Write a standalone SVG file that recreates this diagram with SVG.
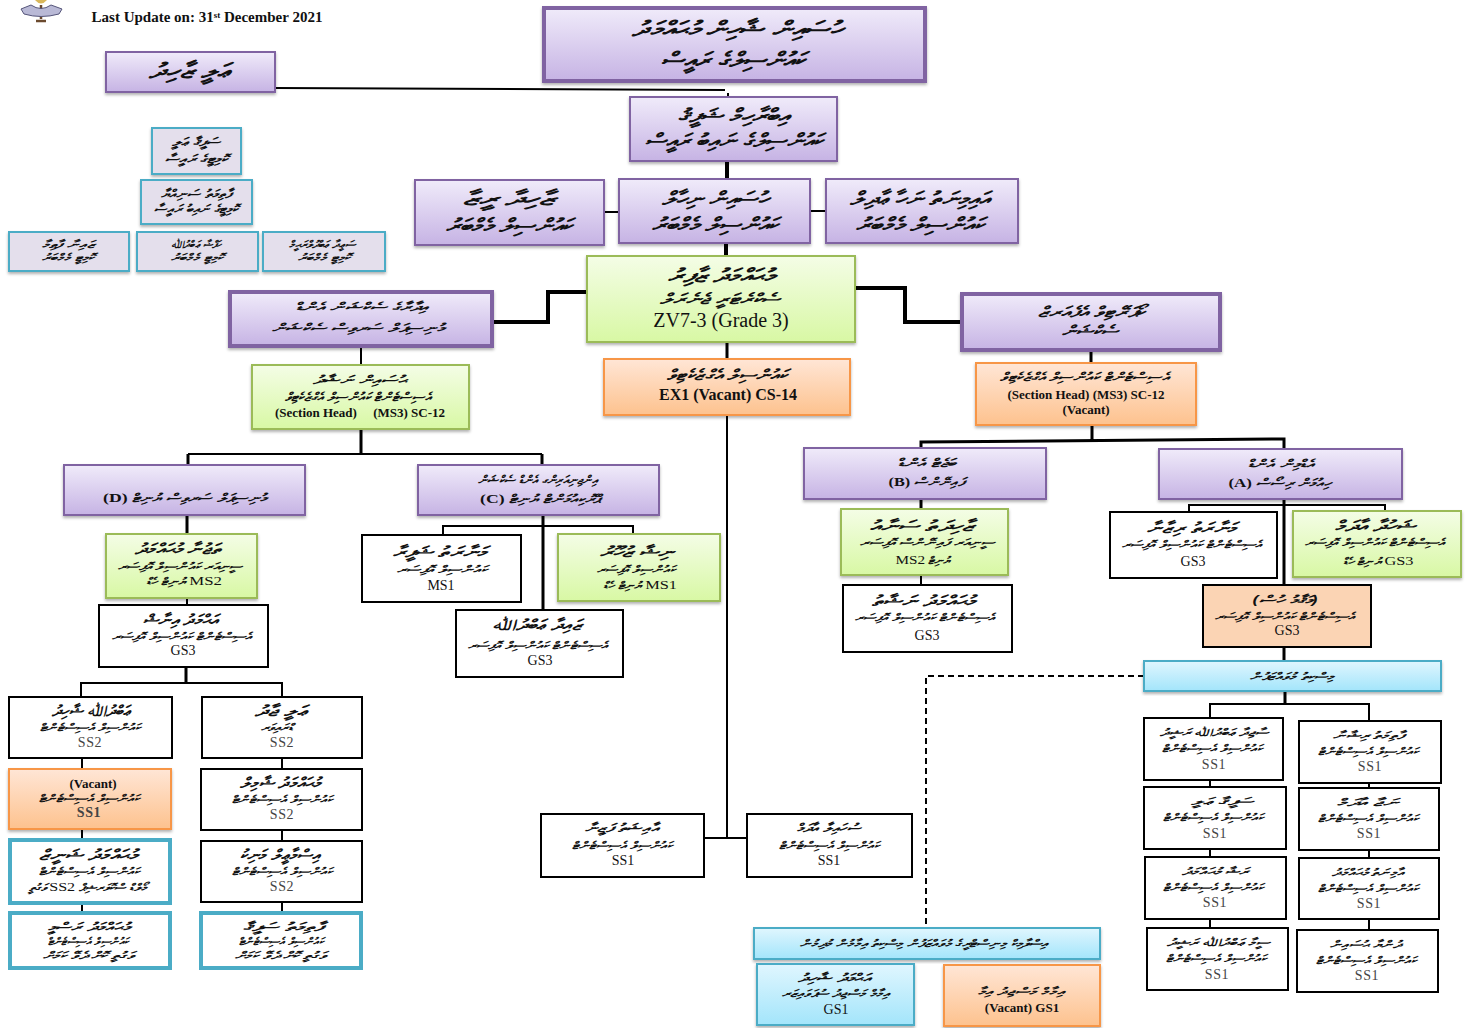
<svg xmlns="http://www.w3.org/2000/svg" width="1474" height="1028" viewBox="0 0 1474 1028">
<style>
text{text-anchor:middle;font-family:"Liberation Serif","Noto Sans",serif;fill:#111}
.d{direction:rtl;font-family:"Noto Sans","DejaVu Sans",sans-serif;font-weight:700;font-style:italic}
.xl{font-size:21px}.l{font-size:19px}.m{font-size:15px}.s{font-size:12px}.xs{font-size:10.5px}
.e{font-family:"Liberation Serif",serif;font-style:normal;font-weight:700;font-size:13px}
.f{font-family:"Liberation Serif",serif;font-style:normal;font-weight:400;font-size:13px}
.r{font-size:14px}.g{fill:#444;letter-spacing:.6px}
.la{font-size:13px;font-weight:700}.lb{font-size:20px}
.p{fill:url(#pu);stroke:#8064a2;stroke-width:2;filter:url(#sh)}.pt{fill:url(#pu);stroke:#8064a2;stroke-width:4;filter:url(#sh)}
.gr{fill:url(#gr);stroke:#9bbb59;stroke-width:2;filter:url(#sh)}.o{fill:url(#or);stroke:#f79646;stroke-width:2;filter:url(#sh)}
.b{fill:url(#bl);stroke:#4bacc6;stroke-width:2;filter:url(#sh)}.li{fill:#e4dfec;stroke:#4bacc6;stroke-width:2;filter:url(#sh)}
.w{fill:#fff;stroke:#000;stroke-width:2}.wb{fill:#fff;stroke:#4bacc6;stroke-width:4}.pe{fill:#fbd4b4;stroke:#000;stroke-width:2}
.c{fill:none;stroke:#000}.c2{stroke-width:2}.c3{stroke-width:3}.c4{stroke-width:4}
</style>
<defs>
<linearGradient id="pu" x1="0" y1="0" x2="0" y2="1"><stop offset="0" stop-color="#f0ebfa"/><stop offset="1" stop-color="#c6b3e4"/></linearGradient>
<linearGradient id="gr" x1="0" y1="0" x2="0" y2="1"><stop offset="0" stop-color="#f4fde6"/><stop offset="1" stop-color="#d8f8a4"/></linearGradient>
<linearGradient id="or" x1="0" y1="0" x2="0" y2="1"><stop offset="0" stop-color="#ffe6d6"/><stop offset="1" stop-color="#fdc28e"/></linearGradient>
<linearGradient id="bl" x1="0" y1="0" x2="0" y2="1"><stop offset="0" stop-color="#e0f6fe"/><stop offset="1" stop-color="#a3e5fb"/></linearGradient>
<filter id="sh" x="-5%" y="-10%" width="110%" height="125%"><feDropShadow dx="0" dy="2" stdDeviation="1.5" flood-color="#000" flood-opacity=".3"/></filter>
</defs>
<g id="connectors">
<path class="c c2" d="M275 88L725 90M728 93V96M604 212H619M810 211H826M361 347V365M188 454H542M727 415V838M704 838H747M81 697V683H282V697M82 758V769M82 829V839M82 904V912M282 758V768M282 830V840M282 902V912M443 535V526H633V534M1189 512V505H1385V511M1210 718V704H1369V721M1210 780V787M1210 849V857M1210 919V928M1369 783V788M1369 850V858M1369 919V930M921 575V585M187 598V605"/>
<path class="c c3" d="M361 429V454M188 454V465M542 454V465M187 515V534M186 667V683M543 515V609M1091 351V363M1092 425V440M921 448V442L1284 439V449M921 499V509M1284 499V585M1284 647V661M1285 691V704M727 342V359"/>
<path class="c c4" d="M727 161V179M726 243V256M587 292H548V322H492M855 288H905V322H961"/>
<path class="c c2" stroke-dasharray="6 4" d="M1144 676H926V927"/>
</g>
<g id="logo"><path d="M41 5V19M36 21H46" fill="none" stroke="#6b4a2e" stroke-width="2.5"/><path d="M35 0Q41 7 47 0Z" fill="#d9b75a"/><path d="M21 9L31 5Q41 12 51 5L62 9L59 14Q41 19 24 14Z" fill="#b9b9d6" stroke="#55557a"/></g>
<text id="update" x="207" y="22" class="la" style="font-size:15px">Last Update on: 31<tspan dy="-4" font-size="9">st</tspan><tspan dy="4"> December 2021</tspan></text>
<g id="n1"><rect class="pt" x="544" y="8" width="381" height="73"/><text x="737" y="36" class="d xl" textLength="210" lengthAdjust="spacingAndGlyphs">ހުސައިން ޝާހިން މުޙައްމަދު</text><text x="733" y="67" class="d xl" textLength="145" lengthAdjust="spacingAndGlyphs">ކައުންސިލްގެ ރައީސް</text></g>
<g id="n2"><rect class="p" x="106" y="52" width="169" height="40"/><text x="189" y="78" class="d xl" textLength="80" lengthAdjust="spacingAndGlyphs">ޢަލީ ޒާހިދު</text></g>
<g id="n3"><rect class="p" x="630" y="97" width="207" height="64"/><text x="734" y="122" class="d l" textLength="112" lengthAdjust="spacingAndGlyphs">އިބްރާހިމް ޝަފީޤު</text><text x="734" y="147" class="d l" textLength="178" lengthAdjust="spacingAndGlyphs">ކައުންސިލްގެ ނައިބު ރައީސް</text></g>
<g id="n4"><rect class="p" x="415" y="180" width="189" height="65"/><text x="509" y="205" class="d l" textLength="93" lengthAdjust="spacingAndGlyphs">ޒާހިދާ ރީޒާ</text><text x="509" y="232" class="d l" textLength="127" lengthAdjust="spacingAndGlyphs">ކައުންސިލް މެމްބަރު</text></g>
<g id="n5"><rect class="p" x="619" y="179" width="191" height="64"/><text x="715" y="205" class="d l" textLength="106" lengthAdjust="spacingAndGlyphs">ހުސައިން ނިހާލް</text><text x="715" y="231" class="d l" textLength="127" lengthAdjust="spacingAndGlyphs">ކައުންސިލް މެމްބަރު</text></g>
<g id="n6"><rect class="p" x="826" y="179" width="192" height="64"/><text x="920" y="205" class="d l" textLength="140" lengthAdjust="spacingAndGlyphs">އައިމިނަތު ނަހާ ޢާދިލް</text><text x="920" y="231" class="d l" textLength="128" lengthAdjust="spacingAndGlyphs">ކައުންސިލް މެމްބަރު</text></g>
<g id="n7"><rect class="li" x="152" y="128" width="89" height="46"/><text x="196" y="146" class="d s" textLength="49" lengthAdjust="spacingAndGlyphs">ސަފީޤާ ޢަލީ</text><text x="196" y="163" class="d s" textLength="63" lengthAdjust="spacingAndGlyphs">ކޮމިޓީގެ ރައީސާ</text></g>
<g id="n8"><rect class="li" x="141" y="180" width="111" height="44"/><text x="196" y="198" class="d s" textLength="71" lengthAdjust="spacingAndGlyphs">ފާތިމަތު ސަނިއްޔާ</text><text x="196" y="213" class="d s" textLength="84" lengthAdjust="spacingAndGlyphs">ކޮމިޓީގެ ނައިބު ރައީސާ</text></g>
<g id="n9"><rect class="li" x="9" y="232" width="120" height="39"/><text x="68" y="248" class="d xs" textLength="52" lengthAdjust="spacingAndGlyphs">ޒައިނާ ފާޠިމާ</text><text x="68" y="261" class="d xs" textLength="52" lengthAdjust="spacingAndGlyphs">ކޮމިޓީ މެމްބަރު</text></g>
<g id="n10"><rect class="li" x="137" y="232" width="121" height="39"/><text x="196" y="248" class="d xs" textLength="50" lengthAdjust="spacingAndGlyphs">ހަފްޟާ ޢަބްދުﷲ</text><text x="197" y="261" class="d xs" textLength="52" lengthAdjust="spacingAndGlyphs">ކޮމިޓީ މެމްބަރު</text></g>
<g id="n11"><rect class="li" x="263" y="232" width="122" height="39"/><text x="322" y="248" class="d xs" textLength="66" lengthAdjust="spacingAndGlyphs">ސަޢީދާ ޢަބްދުލްރަޙީމް</text><text x="324" y="261" class="d xs" textLength="52" lengthAdjust="spacingAndGlyphs">ކޮމިޓީ މެމްބަރު</text></g>
<g id="n12"><rect class="pt" x="230" y="292" width="262" height="54"/><text x="362" y="311" class="d s" textLength="133" lengthAdjust="spacingAndGlyphs">އިދާރާގެ ސެކްޝަން އެންޑް</text><text x="358" y="332" class="d s" textLength="173" lengthAdjust="spacingAndGlyphs">މުނިސިޕަލް ސަރވިސް ސެކްޝަން</text></g>
<g id="n13"><rect class="gr" x="587" y="256" width="268" height="86"/><text x="721" y="282" class="d l" textLength="107" lengthAdjust="spacingAndGlyphs">މުޙައްމަދު ޒާފިރު</text><text x="720" y="304" class="d m" textLength="120" lengthAdjust="spacingAndGlyphs">ސެކްރެޓަރީ ޖެނެރަލް</text><text x="721" y="327" class="lb">ZV7-3 (Grade 3)</text></g>
<g id="n14"><rect class="pt" x="962" y="294" width="258" height="56"/><text x="1091" y="317" class="d m" textLength="107" lengthAdjust="spacingAndGlyphs">ކޯޕަރޭޓިވް އެފެއަރޒް</text><text x="1090" y="336" class="d m" textLength="56" lengthAdjust="spacingAndGlyphs">ސެކްޝަން</text></g>
<g id="n15"><rect class="gr" x="252" y="365" width="217" height="64"/><text x="360" y="384" class="d s" textLength="95" lengthAdjust="spacingAndGlyphs">ޙުސައިން ނަޝާދު</text><text x="358" y="401" class="d s" textLength="147" lengthAdjust="spacingAndGlyphs">އެސިސްޓެންޓް ކައުންސިލް އެގްޒެކެޓިވް</text><text x="360" y="417" class="la" xml:space="preserve">(Section Head)     (MS3) SC-12</text></g>
<g id="n16"><rect class="o" x="604" y="359" width="246" height="56"/><text x="727" y="380" class="d m" textLength="120" lengthAdjust="spacingAndGlyphs">ކައުންސިލް އެގްޒެކެޓިވް</text><text x="728" y="400" style="font-size:16px;font-weight:700">EX1 (Vacant) CS-14</text></g>
<g id="n17"><rect class="o" x="976" y="363" width="220" height="62"/><text x="1085" y="381" class="d s" textLength="170" lengthAdjust="spacingAndGlyphs">އެސިސްޓެންޓް ކައުންސިލް އެގްޒެކެޓިވް</text><text x="1086" y="399" class="la">(Section Head) (MS3) SC-12</text><text x="1086" y="414" class="la">(Vacant)</text></g>
<g id="n18"><rect class="p" x="64" y="465" width="241" height="50"/><text x="185" y="502" class="d s" textLength="164" lengthAdjust="spacingAndGlyphs">މުނިސިޕަލް ސަރވިސް ޔުނިޓް  <tspan class="e">(D)</tspan></text></g>
<g id="n19"><rect class="p" x="418" y="465" width="241" height="50"/><text x="538" y="484" class="d s" textLength="120" lengthAdjust="spacingAndGlyphs">އިންޖިނިއަރިންގ އެންޑް ސެކްޝަން</text><text x="540" y="503" class="d s" textLength="120" lengthAdjust="spacingAndGlyphs">ޕްރޮކިއުމަންޓް ޔުނިޓް <tspan class="e">(C)</tspan></text></g>
<g id="n20"><rect class="p" x="804" y="448" width="242" height="51"/><text x="927" y="467" class="d s" textLength="59" lengthAdjust="spacingAndGlyphs">ބަޖެޓް އެންޑް</text><text x="927" y="486" class="d s" textLength="77" lengthAdjust="spacingAndGlyphs">ފައިނޭންސް <tspan class="e">(B)</tspan></text></g>
<g id="n21"><rect class="p" x="1159" y="449" width="243" height="50"/><text x="1281" y="468" class="d s" textLength="67" lengthAdjust="spacingAndGlyphs">އެޑްމިން އެންޑް</text><text x="1280" y="487" class="d s" textLength="103" lengthAdjust="spacingAndGlyphs">ހިއުމަން ރިސޯސް <tspan class="e">(A)</tspan></text></g>
<g id="n22"><rect class="gr" x="106" y="534" width="151" height="64"/><text x="178" y="554" class="d m" textLength="87" lengthAdjust="spacingAndGlyphs">ތަޖުނާ މުޙައްމަދު</text><text x="180" y="570" class="d xs" textLength="124" lengthAdjust="spacingAndGlyphs">ސީނިއަރ ކައުންސިލް އޮފިސަރ</text><text x="184" y="585" class="d xs" textLength="76" lengthAdjust="spacingAndGlyphs"><tspan class="f">MS2</tspan> ޔުނިޓް ހެޑް</text></g>
<g id="n23"><rect class="w" x="99" y="605" width="169" height="62"/><text x="180" y="625" class="d m" textLength="75" lengthAdjust="spacingAndGlyphs">އަޙްމަދު އިނާޝް</text><text x="182" y="640" class="d xs" textLength="140" lengthAdjust="spacingAndGlyphs">އެސިސްޓެންޓް ކައުންސިލް އޮފިސަރ</text><text x="183" y="655" class="r">GS3</text></g>
<g id="n24"><rect class="w" x="9" y="697" width="163" height="61"/><text x="91" y="716" class="d m" textLength="78" lengthAdjust="spacingAndGlyphs">ޢަބްދުﷲ ޝާހިދު</text><text x="90" y="731" class="d xs" textLength="101" lengthAdjust="spacingAndGlyphs">ކައުންސިލް އެސިސްޓެންޓް</text><text x="90" y="747" class="r g">SS2</text></g>
<g id="n25"><rect class="w" x="202" y="697" width="160" height="61"/><text x="281" y="716" class="d m" textLength="52" lengthAdjust="spacingAndGlyphs">ޢަލީ ޖާދު</text><text x="277" y="731" class="d xs" textLength="33" lengthAdjust="spacingAndGlyphs">ޑްރައިވަރ</text><text x="282" y="747" class="r g">SS2</text></g>
<g id="n26"><rect class="o" x="9" y="769" width="162" height="60"/><text x="93" y="788" class="la">(Vacant)</text><text x="89" y="802" class="d xs" textLength="101" lengthAdjust="spacingAndGlyphs">ކައުންސިލް އެސިސްޓެންޓް</text><text x="89" y="817" class="r g" style="font-weight:700">SS1</text></g>
<g id="n27"><rect class="w" x="201" y="769" width="161" height="61"/><text x="280" y="788" class="d m" textLength="80" lengthAdjust="spacingAndGlyphs">މުޙައްމަދު ޝާމިލް</text><text x="282" y="803" class="d xs" textLength="101" lengthAdjust="spacingAndGlyphs">ކައުންސިލް އެސިސްޓެންޓް</text><text x="282" y="819" class="r g">SS2</text></g>
<g id="n28"><rect class="wb" x="10" y="840" width="160" height="63"/><text x="88" y="860" class="d m" textLength="98" lengthAdjust="spacingAndGlyphs">މުޙައްމަދު ޝަނީޒް</text><text x="89" y="875" class="d xs" textLength="101" lengthAdjust="spacingAndGlyphs">ކައުންސިލް އެސިސްޓެންޓް</text><text x="88" y="891" class="d xs" textLength="119" lengthAdjust="spacingAndGlyphs">މޯލްޑް ސްކޮލަރޝިޕް <tspan class="f">SS2</tspan> ވަގުތީ</text></g>
<g id="n29"><rect class="w" x="201" y="841" width="161" height="61"/><text x="280" y="860" class="d m" textLength="80" lengthAdjust="spacingAndGlyphs">އިސްމާޢީލް މަނިކު</text><text x="282" y="875" class="d xs" textLength="100" lengthAdjust="spacingAndGlyphs">ކައުންސިލް އެސިސްޓެންޓް</text><text x="282" y="891" class="r g">SS2</text></g>
<g id="n30"><rect class="wb" x="10" y="913" width="160" height="55"/><text x="88" y="931" class="d s" textLength="81" lengthAdjust="spacingAndGlyphs">މުޙައްމަދު ރަސްމީ</text><text x="88" y="945" class="d xs" textLength="81" lengthAdjust="spacingAndGlyphs">ކައުންސިލް އެސިސްޓެންޓް</text><text x="88" y="959" class="d xs" textLength="90" lengthAdjust="spacingAndGlyphs">ވަގުތީ ކޮށް ދެވޭ ކަމަށް</text></g>
<g id="n31"><rect class="wb" x="201" y="913" width="160" height="55"/><text x="283" y="931" class="d s" textLength="80" lengthAdjust="spacingAndGlyphs">ފާތިމަތު ސަފީޤާ</text><text x="281" y="945" class="d xs" textLength="85" lengthAdjust="spacingAndGlyphs">ކައުންސިލް އެސިސްޓެންޓް</text><text x="280" y="959" class="d xs" textLength="90" lengthAdjust="spacingAndGlyphs">ވަގުތީ ކޮށް ދެވޭ ކަމަށް</text></g>
<g id="n32"><rect class="w" x="362" y="535" width="159" height="67"/><text x="440" y="557" class="d m" textLength="95" lengthAdjust="spacingAndGlyphs">މަނާރަތު ޝަފީރާ</text><text x="442" y="573" class="d xs" textLength="90" lengthAdjust="spacingAndGlyphs">ކައުންސިލް އޮފިސަރ</text><text x="441" y="590" class="r">MS1</text></g>
<g id="n33"><rect class="gr" x="558" y="534" width="162" height="67"/><text x="637" y="557" class="d m" textLength="75" lengthAdjust="spacingAndGlyphs">ނިޝާ ޒުހޫރު</text><text x="636" y="573" class="d xs" textLength="78" lengthAdjust="spacingAndGlyphs">ކައުންސިލް އޮފިސަރ</text><text x="640" y="589" class="d xs" textLength="74" lengthAdjust="spacingAndGlyphs"><tspan class="f">MS1</tspan> ޔުނިޓް ހެޑް</text></g>
<g id="n34"><rect class="w" x="456" y="610" width="167" height="67"/><text x="537" y="630" class="d m" textLength="90" lengthAdjust="spacingAndGlyphs">ޒައިދާ ޢަބްދުﷲ</text><text x="538" y="649" class="d xs" textLength="140" lengthAdjust="spacingAndGlyphs">އެސިސްޓެންޓް ކައުންސިލް އޮފިސަރ</text><text x="540" y="665" class="r">GS3</text></g>
<g id="n35"><rect class="gr" x="841" y="509" width="167" height="66"/><text x="922" y="531" class="d m" textLength="105" lengthAdjust="spacingAndGlyphs">ޒާހިދަތު ސަނާއު</text><text x="927" y="546" class="d xs" textLength="134" lengthAdjust="spacingAndGlyphs">ސީނިއަރ ފައިނޭންސް އޮފިސަރ</text><text x="923" y="564" class="d xs" textLength="55" lengthAdjust="spacingAndGlyphs">ޔުނިޓް <tspan class="f">MS2</tspan></text></g>
<g id="n36"><rect class="w" x="843" y="585" width="169" height="67"/><text x="923" y="606" class="d m" textLength="103" lengthAdjust="spacingAndGlyphs">މުޙައްމަދު ނަޝާތު</text><text x="925" y="621" class="d xs" textLength="140" lengthAdjust="spacingAndGlyphs">އެސިސްޓެންޓް ކައުންސިލް އޮފިސަރ</text><text x="927" y="640" class="r">GS3</text></g>
<g id="n37"><rect class="w" x="1110" y="512" width="167" height="66"/><text x="1192" y="533" class="d m" textLength="90" lengthAdjust="spacingAndGlyphs">މަނާރަތު ރިޒާނާ</text><text x="1192" y="548" class="d xs" textLength="140" lengthAdjust="spacingAndGlyphs">އެސިސްޓެންޓް ކައުންސިލް އޮފިސަރ</text><text x="1193" y="566" class="r">GS3</text></g>
<g id="n38"><rect class="gr" x="1293" y="511" width="168" height="66"/><text x="1375" y="531" class="d m" textLength="81" lengthAdjust="spacingAndGlyphs">ޝަހުދާ އާދަމް</text><text x="1375" y="546" class="d xs" textLength="140" lengthAdjust="spacingAndGlyphs">އެސިސްޓެންޓް ކައުންސިލް އޮފިސަރ</text><text x="1378" y="565" class="d xs" textLength="71" lengthAdjust="spacingAndGlyphs"><tspan class="f">GS3</tspan> ޔުނިޓް ހެޑް</text></g>
<g id="n39"><rect class="pe" x="1203" y="585" width="168" height="62"/><text x="1285" y="604" class="d s" textLength="65" lengthAdjust="spacingAndGlyphs">(މަޤާމު ހުސް)</text><text x="1285" y="620" class="d xs" textLength="140" lengthAdjust="spacingAndGlyphs">އެސިސްޓެންޓް ކައުންސިލް އޮފިސަރ</text><text x="1287" y="635" class="r">GS3</text></g>
<g id="n40"><rect class="b" x="1144" y="661" width="297" height="30"/><text x="1292" y="680" class="d xs" textLength="84" lengthAdjust="spacingAndGlyphs">މިސްކިތު މުވައްޒަފުން</text></g>
<g id="n41"><rect class="w" x="1144" y="718" width="139" height="62"/><text x="1214" y="736" class="d xs" textLength="108" lengthAdjust="spacingAndGlyphs">ސާޖިދާ ޢަބްދުﷲ ރަޝީދު</text><text x="1212" y="752" class="d xs" textLength="100" lengthAdjust="spacingAndGlyphs">ކައުންސިލް އެސިސްޓެންޓް</text><text x="1214" y="769" class="r g">SS1</text></g>
<g id="n42"><rect class="w" x="1299" y="721" width="142" height="62"/><text x="1368" y="739" class="d xs" textLength="70" lengthAdjust="spacingAndGlyphs">ފާތިމަތު ރިޝާނާ</text><text x="1368" y="755" class="d xs" textLength="100" lengthAdjust="spacingAndGlyphs">ކައުންސިލް އެސިސްޓެންޓް</text><text x="1370" y="771" class="r g">SS1</text></g>
<g id="n43"><rect class="w" x="1144" y="787" width="142" height="62"/><text x="1222" y="805" class="d xs" textLength="62" lengthAdjust="spacingAndGlyphs">ސަފީޤާ ޢަލީ</text><text x="1213" y="821" class="d xs" textLength="100" lengthAdjust="spacingAndGlyphs">ކައުންސިލް އެސިސްޓެންޓް</text><text x="1215" y="838" class="r g">SS1</text></g>
<g id="n44"><rect class="w" x="1299" y="788" width="140" height="62"/><text x="1368" y="806" class="d xs" textLength="62" lengthAdjust="spacingAndGlyphs">ނަޖާ އާދަމް</text><text x="1368" y="822" class="d xs" textLength="100" lengthAdjust="spacingAndGlyphs">ކައުންސިލް އެސިސްޓެންޓް</text><text x="1369" y="838" class="r g">SS1</text></g>
<g id="n45"><rect class="w" x="1145" y="857" width="141" height="62"/><text x="1215" y="875" class="d xs" textLength="66" lengthAdjust="spacingAndGlyphs">ރަޝާ މުޙައްމަދު</text><text x="1213" y="891" class="d xs" textLength="100" lengthAdjust="spacingAndGlyphs">ކައުންސިލް އެސިސްޓެންޓް</text><text x="1215" y="907" class="r g">SS1</text></g>
<g id="n46"><rect class="w" x="1299" y="858" width="140" height="61"/><text x="1368" y="876" class="d xs" textLength="72" lengthAdjust="spacingAndGlyphs">އާމިނަތު މުޙައްމަދު</text><text x="1368" y="892" class="d xs" textLength="100" lengthAdjust="spacingAndGlyphs">ކައުންސިލް އެސިސްޓެންޓް</text><text x="1369" y="908" class="r g">SS1</text></g>
<g id="n47"><rect class="w" x="1147" y="928" width="141" height="62"/><text x="1218" y="946" class="d xs" textLength="102" lengthAdjust="spacingAndGlyphs">ސީމާ ޢަބްދުﷲ ރަޝީދު</text><text x="1216" y="962" class="d xs" textLength="100" lengthAdjust="spacingAndGlyphs">ކައުންސިލް އެސިސްޓެންޓް</text><text x="1217" y="979" class="r g">SS1</text></g>
<g id="n48"><rect class="w" x="1297" y="930" width="141" height="62"/><text x="1365" y="948" class="d xs" textLength="70" lengthAdjust="spacingAndGlyphs">ދުންޔާ ޙުސައިން</text><text x="1366" y="964" class="d xs" textLength="100" lengthAdjust="spacingAndGlyphs">ކައުންސިލް އެސިސްޓެންޓް</text><text x="1367" y="980" class="r g">SS1</text></g>
<g id="n49"><rect class="w" x="541" y="814" width="163" height="63"/><text x="622" y="832" class="d s" textLength="75" lengthAdjust="spacingAndGlyphs">އާއިޝަތު ފަޒީނާ</text><text x="622" y="849" class="d xs" textLength="100" lengthAdjust="spacingAndGlyphs">ކައުންސިލް އެސިސްޓެންޓް</text><text x="623" y="865" class="r">SS1</text></g>
<g id="n50"><rect class="w" x="747" y="814" width="165" height="63"/><text x="829" y="832" class="d s" textLength="65" lengthAdjust="spacingAndGlyphs">ސުހައިލާ އާދަމް</text><text x="829" y="849" class="d xs" textLength="100" lengthAdjust="spacingAndGlyphs">ކައުންސިލް އެސިސްޓެންޓް</text><text x="829" y="865" class="r">SS1</text></g>
<g id="n51"><rect class="b" x="754" y="928" width="346" height="31"/><text x="924" y="947" class="d xs" textLength="248" lengthAdjust="spacingAndGlyphs">އިސްލާމިކް މިނިސްޓްރީގެ މުވައްޒަފުން މިސްކިތު އިމާމުން މުދިމުން</text></g>
<g id="n52"><rect class="b" x="757" y="964" width="157" height="61"/><text x="834" y="982" class="d s" textLength="73" lengthAdjust="spacingAndGlyphs">އަޙްމަދު ޝާހިދު</text><text x="836" y="997" class="d xs" textLength="108" lengthAdjust="spacingAndGlyphs">އިމާމް މަސްޖިދު ސުޕަވައިޒަރ</text><text x="836" y="1014" class="r">GS1</text></g>
<g id="n53"><rect class="o" x="944" y="965" width="156" height="61"/><text x="1021" y="995" class="d xs" textLength="87" lengthAdjust="spacingAndGlyphs">އިމާމް މަސްޖިދު އިމާ</text><text x="1022" y="1012" class="la">(Vacant) GS1</text></g>
</svg>
